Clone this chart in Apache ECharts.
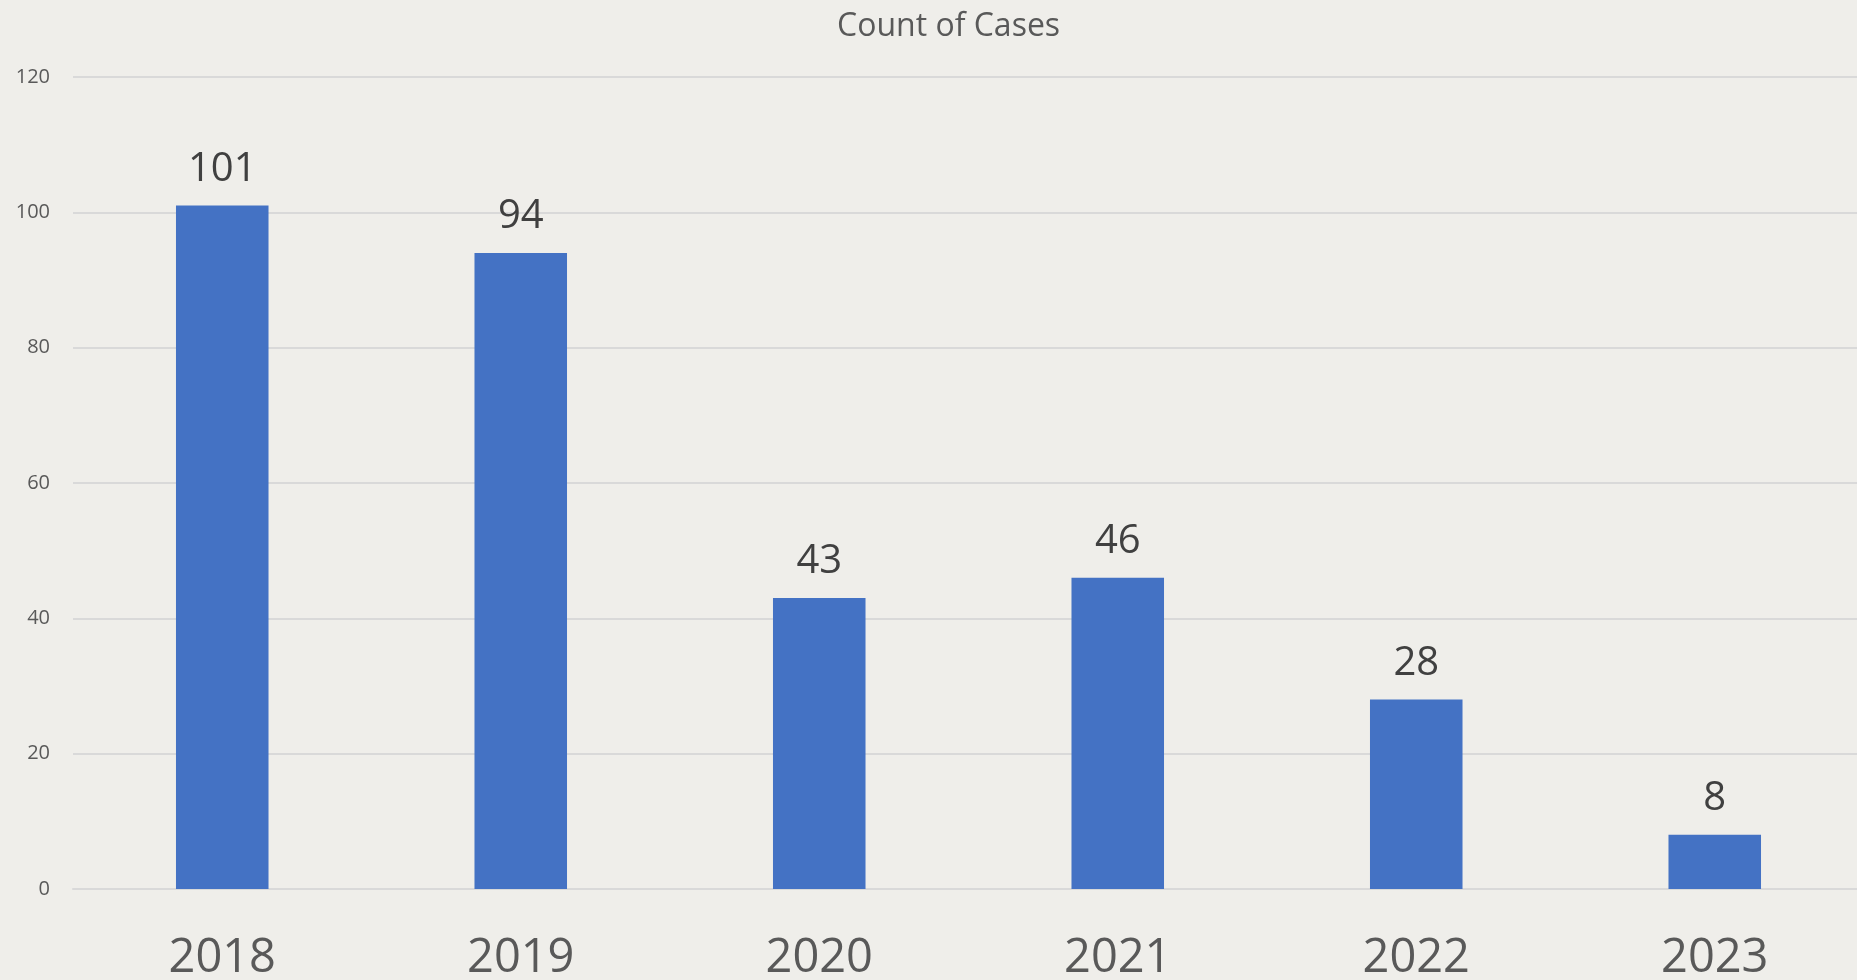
<!DOCTYPE html>
<html>
<head>
<meta charset="utf-8">
<script src="https://cdn.jsdelivr.net/npm/echarts@6/dist/echarts.min.js"></script>
<style>
html,body{margin:0;padding:0;background:#EFEEEA;}
#chart{width:1857px;height:980px;}
</style>
</head>
<body>
<div id="chart"></div>
<script>
const categories = ['2018', '2019', '2020', '2021', '2022', '2023'];
const caseCounts = [101, 94, 43, 46, 28, 8];
const chartTitle = 'Count of Cases';

const chart = echarts.init(document.getElementById('chart'));
chart.setOption({
  backgroundColor: '#EFEEEA',
  animation: false,
  title: {
    text: chartTitle,
    left: 832,
    top: 6,
    textStyle: {
      fontFamily: 'Open Sans',
      fontSize: 32,
      fontWeight: 'normal',
      color: '#595959'
    }
  },
  grid: {
    left: 73,
    top: 77,
    width: 1791,
    height: 812,
    containLabel: false,
    outerBoundsMode: 'none'
  },
  xAxis: {
    type: 'category',
    data: categories,
    axisLine: { show: true, lineStyle: { color: '#D9D9D9', width: 2 } },
    axisTick: { show: false },
    axisLabel: {
      margin: 46,
      fontFamily: 'Open Sans',
      fontSize: 47,
      color: '#595959'
    }
  },
  yAxis: {
    type: 'value',
    min: 0,
    max: 120,
    interval: 20,
    axisLine: { show: false },
    axisTick: { show: false },
    splitLine: { lineStyle: { color: '#D9D9D9', width: 2 } },
    axisLabel: {
      margin: 23,
      fontFamily: 'Open Sans',
      fontSize: 20,
      color: '#595959'
    }
  },
  series: [{
    type: 'bar',
    data: caseCounts,
    barWidth: '31%',
    itemStyle: { color: '#4472C4' },
    label: {
      show: true,
      position: 'top',
      distance: 16,
      fontFamily: 'Open Sans',
      fontSize: 40,
      color: '#404040'
    }
  }]
});
</script>
</body>
</html>
